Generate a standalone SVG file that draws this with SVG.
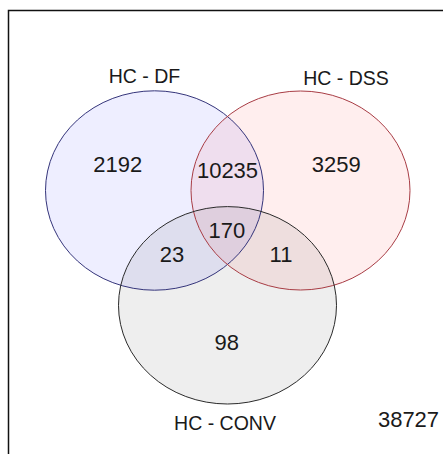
<svg xmlns="http://www.w3.org/2000/svg" width="443" height="454" viewBox="0 0 443 454">
  <style>
    .lbl { font-family: "Liberation Sans", Arial, sans-serif; font-size: 19.5px; fill: #1a1a1a; text-anchor: middle; }
    .num { font-family: "Liberation Sans", Arial, sans-serif; font-size: 22px; fill: #1a1a1a; text-anchor: middle; }
    .set { stroke-width: 1; }
  </style>
  <rect x="0" y="0" width="443" height="454" fill="#ffffff"/>
  <!-- plot frame -->
  <rect x="8.5" y="10.5" width="480" height="480" fill="none" stroke="#111" stroke-width="1.5"/>

  <!-- set areas -->
  <g id="set-df">
    <ellipse cx="154.5" cy="190.5" rx="109" ry="99.7" fill="#3a3aff" fill-opacity="0.085"/>
  </g>
  <g id="set-dss">
    <ellipse cx="300.5" cy="190.5" rx="109.5" ry="99.5" fill="#ff3a3a" fill-opacity="0.085"/>
  </g>
  <g id="set-conv">
    <ellipse cx="227.5" cy="305.3" rx="109" ry="98.7" fill="#000" fill-opacity="0.065"/>
  </g>

  <!-- outlines -->
  <g id="outlines" fill="none">
    <ellipse class="set" cx="154.5" cy="190.5" rx="109" ry="99.7" stroke="#34347a"/>
    <ellipse class="set" cx="300.5" cy="190.5" rx="109.5" ry="99.5" stroke="#a83c44"/>
    <ellipse class="set" cx="227.5" cy="305.3" rx="109" ry="98.7" stroke="#2a2a2a"/>
  </g>

  <!-- set names -->
  <text class="lbl" x="144.5" y="83">HC - DF</text>
  <text class="lbl" x="346" y="85">HC - DSS</text>
  <text class="lbl" x="225" y="430">HC - CONV</text>

  <!-- region counts -->
  <text class="num" x="117.8" y="172.3">2192</text>
  <text class="num" x="336.3" y="171.7">3259</text>
  <text class="num" x="227.5" y="178">10235</text>
  <text class="num" x="226.8" y="237.5">170</text>
  <text class="num" x="172" y="261.5">23</text>
  <text class="num" x="281" y="261.5">11</text>
  <text class="num" x="226.7" y="350">98</text>
  <text class="num" x="408.5" y="426.5">38727</text>
</svg>
